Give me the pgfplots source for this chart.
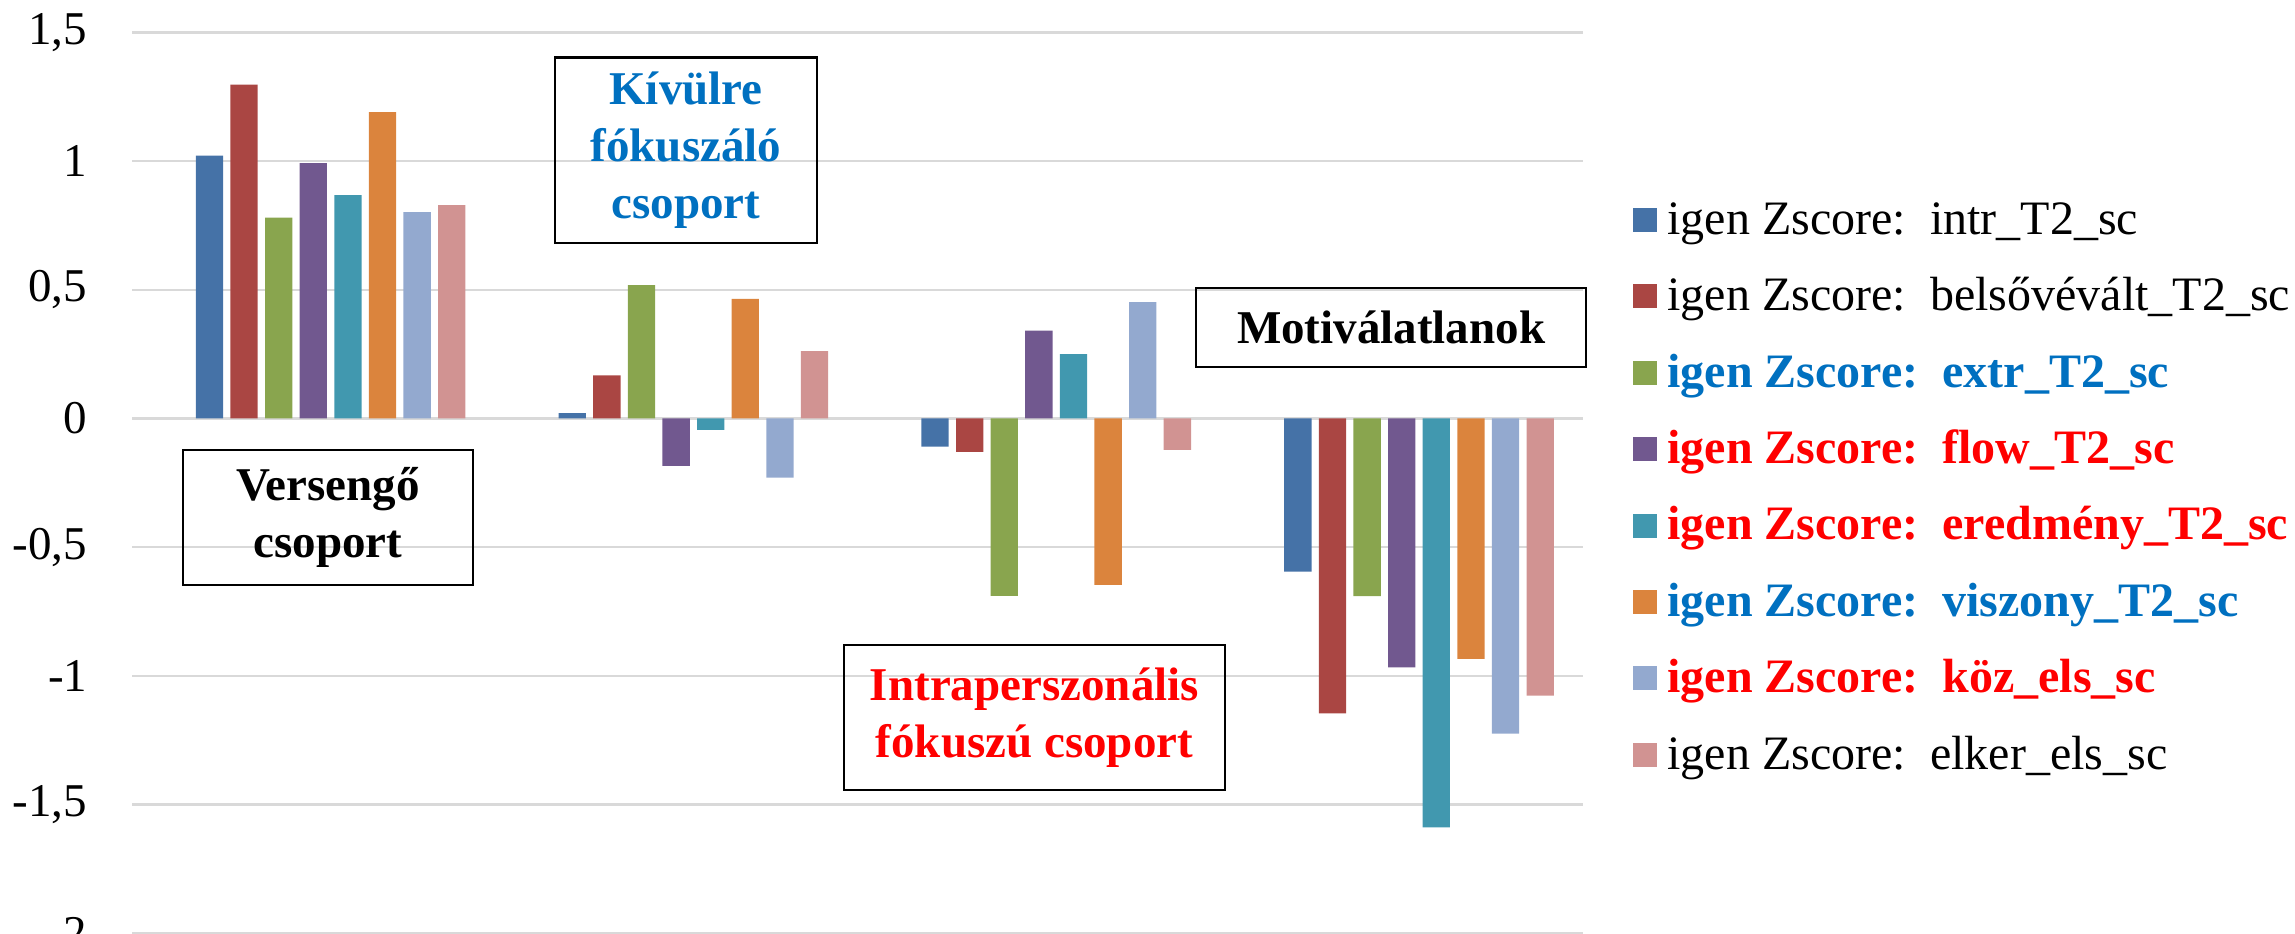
\documentclass[border=0pt]{standalone}
\usepackage{fontspec}
\setmainfont{Liberation Serif}
\usepackage{pgfplots}
\pgfplotsset{compat=1.18}

\definecolor{s1}{HTML}{4572A7}
\definecolor{s2}{HTML}{AA4643}
\definecolor{s3}{HTML}{89A54E}
\definecolor{s4}{HTML}{71588F}
\definecolor{s5}{HTML}{4198AF}
\definecolor{s6}{HTML}{DB843D}
\definecolor{s7}{HTML}{93A9CF}
\definecolor{s8}{HTML}{D19392}
\definecolor{txtblue}{HTML}{0070C0}
\definecolor{txtred}{HTML}{FF0000}
\definecolor{gridgray}{HTML}{D9D9D9}

\tikzset{grpbox/.style={draw=black, line width=0.6pt, inner sep=0pt, align=center,
  font=\fontsize{11.75}{14.25}\selectfont\bfseries}}

\begin{document}
\begin{tikzpicture}
\begin{axis}[
    name=ax,
    scale only axis,
    width=362.75pt, height=225.2pt,
    xmin=-0.5474, xmax=3.452,
    ymin=-2, ymax=1.5,
    ytick={-2,-1.5,-1,-0.5,0,0.5,1,1.5},
    xtick=\empty,
    ymajorgrids,
    grid style={color=gridgray, line width=0.55pt},
    axis line style={draw=none},
    major tick length=0pt,
    /pgf/number format/use comma,
    /pgf/number format/fixed,
    /pgf/number format/assume math mode=true,
    yticklabel style={font=\fontsize{11.75}{14}\selectfont, inner sep=0pt, anchor=east, xshift=-11pt},
    ybar=1.825pt, bar width=6.83pt,
    every axis plot/.append style={draw=none,
      legend image code/.code={\fill[##1] (0pt,-3pt) rectangle (6pt,3pt);}},
    legend cell align=left,
    legend style={draw=none, fill=none, inner xsep=0pt, inner ysep=0pt,
      at={(axis description cs:1.0338,0.4949)}, anchor=west,
      font=\fontsize{12}{14}\selectfont,
      nodes={inner sep=0pt, text height=8.6pt, text depth=1.5pt},
      row sep=9pt, column sep=2.65pt},
    clip=false,
]

% intr_T2_sc
\addplot[fill=s1] coordinates {(0,1.021) (1,0.021) (2,-0.109) (3,-0.595)};
\addlegendentry{igen Zscore:\hspace{0.5em}intr\_T2\_sc}
% belsovevalt_T2_sc
\addplot[fill=s2] coordinates {(0,1.297) (1,0.167) (2,-0.130) (3,-1.146)};
\addlegendentry{igen Zscore:\hspace{0.5em}belsővévált\_T2\_sc}
% extr_T2_sc
\addplot[fill=s3] coordinates {(0,0.780) (1,0.518) (2,-0.689) (3,-0.690)};
\addlegendentry{\textbf{\color{txtblue}igen Zscore:\hspace{0.5em}extr\_T2\_sc}}
% flow_T2_sc
\addplot[fill=s4] coordinates {(0,0.992) (1,-0.184) (2,0.341) (3,-0.967)};
\addlegendentry{\textbf{\color{txtred}igen Zscore:\hspace{0.5em}flow\_T2\_sc}}
% eredmeny_T2_sc
\addplot[fill=s5] coordinates {(0,0.868) (1,-0.044) (2,0.250) (3,-1.589)};
\addlegendentry{\textbf{\color{txtred}igen Zscore:\hspace{0.5em}eredmény\_T2\_sc}}
% viszony_T2_sc
\addplot[fill=s6] coordinates {(0,1.190) (1,0.465) (2,-0.647) (3,-0.934)};
\addlegendentry{\textbf{\color{txtblue}igen Zscore:\hspace{0.5em}viszony\_T2\_sc}}
% koz_els_sc
\addplot[fill=s7] coordinates {(0,0.802) (1,-0.230) (2,0.452) (3,-1.225)};
\addlegendentry{\textbf{\color{txtred}igen Zscore:\hspace{0.5em}köz\_els\_sc}}
% elker_els_sc
\addplot[fill=s8] coordinates {(0,0.829) (1,0.262) (2,-0.122) (3,-1.077)};
\addlegendentry{igen Zscore:\hspace{0.5em}elker\_els\_sc}

% group labels
\node[grpbox, text=black, minimum width=72.5pt, minimum height=33.75pt]
  at (axis cs:-0.0072,-0.385) {Versengő\\csoport};
\node[grpbox, text=txtblue, minimum width=65.5pt, minimum height=46.3pt]
  at (axis cs:0.9796,1.042) {Kívülre\\fókuszáló\\csoport};
\node[grpbox, text=txtred, minimum width=95.25pt, minimum height=36.25pt]
  at (axis cs:1.940,-1.162) {Intraperszonális\\fókuszú csoport};
\node[grpbox, text=black, minimum width=97.5pt, minimum height=19.75pt]
  at (axis cs:2.923,0.3535) {Motiválatlanok};

\end{axis}
\pgfresetboundingbox
\useasboundingbox (-33pt,0pt) rectangle (540.75pt,233.3pt);
\end{tikzpicture}
\end{document}
